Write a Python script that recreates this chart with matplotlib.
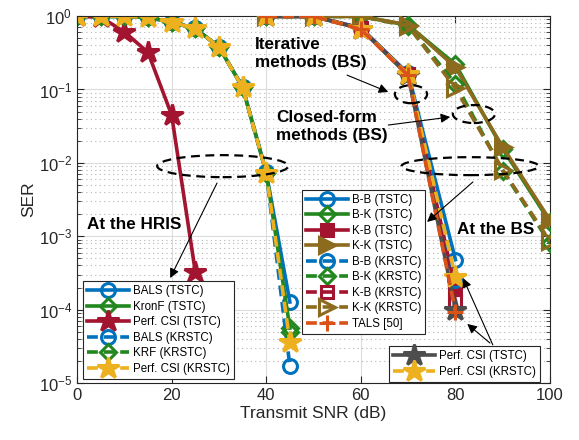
import matplotlib
matplotlib.use("Agg")
import matplotlib.pyplot as plt
from matplotlib.patches import Ellipse
from matplotlib.ticker import LogLocator, NullFormatter

plt.rcParams['font.family'] = ['Liberation Sans', 'DejaVu Sans']
plt.rcParams['mathtext.fontset'] = 'custom'
plt.rcParams['mathtext.rm'] = 'Liberation Sans'

# SER at the HRIS
snr_hris = [0, 5, 10, 15, 20, 25, 30, 35, 40, 45]
bals_tstc = [0.99, 0.99, 0.99, 0.96, 0.82, 0.68, 0.38, 0.108, 0.0074, 1.27e-4]
kronf_tstc = [0.99, 0.99, 0.99, 0.96, 0.82, 0.68, 0.38, 0.107, 0.0073, 5.6e-5]
bals_krstc = [0.99, 0.99, 0.99, 0.96, 0.82, 0.68, 0.38, 0.108, 0.0074, 1.7e-5]
krf_krstc = [0.99, 0.99, 0.99, 0.96, 0.82, 0.68, 0.38, 0.107, 0.0073, 5.0e-5]
perf_krstc_hris = [0.99, 0.99, 0.99, 0.96, 0.82, 0.68, 0.38, 0.107, 0.0073, 3.6e-5]
snr_perf_tstc_hris = [0, 5, 10, 15, 20, 25]
perf_tstc_hris = [0.99, 0.97, 0.61, 0.32, 0.045, 3.3e-4]

# SER at the BS
snr_bs = [40, 50, 60, 70, 80]
snr_bs_full = [40, 50, 60, 70, 80, 90, 100]
bb_tstc = [0.99, 0.99, 0.69, 0.165, 4.8e-4]
bk_tstc = [0.99, 0.99, 0.99, 0.75, 0.22, 0.0155, 1.55e-3]
kb_tstc = [0.99, 0.99, 0.68, 0.16, 1.9e-4]
kk_tstc = [0.99, 0.99, 0.99, 0.76, 0.20, 0.0164, 1.65e-3]
bb_krstc = [0.99, 0.99, 0.68, 0.16, 2.5e-4]
bk_krstc = [0.99, 0.99, 0.99, 0.73, 0.12, 0.0078, 8.0e-4]
kb_krstc = [0.99, 0.99, 0.68, 0.16, 1.3e-4]
kk_krstc = [0.99, 0.99, 0.99, 0.74, 0.104, 0.0080, 8.5e-4]
tals = [0.99, 0.99, 0.66, 0.155, 9.4e-5]
perf_tstc_bs = [0.99, 0.99, 0.67, 0.155, 1.0e-4]
perf_krstc_bs = [0.99, 0.99, 0.67, 0.16, 2.8e-4]

blue = '#0072BD'
green = '#23871F'
red = '#A2142F'
brown = '#8C6A1E'
orange = '#D95319'
yellow = '#EDB120'
gray = '#4D4D4D'

LW = 2.6
MEW = 2.2

fig = plt.figure(figsize=(5.79, 4.40), dpi=100)
ax = fig.add_axes([0.133, 0.1295, 0.817, 0.834])


def curve(x, y, color, marker, ls='-', ms=9, fill='none', z=2, label=None):
    return ax.plot(x, y, ls=ls, color=color, lw=LW, marker=marker, ms=ms,
                   mew=MEW, mfc=fill, mec=color, zorder=z, label=label,
                   dashes=(3, 1.6) if ls == '--' else (None, None))[0]


# HRIS curves
h1 = curve(snr_hris, bals_tstc, blue, 'o', ms=10, z=2, label='BALS (TSTC)')
h2 = curve(snr_hris, kronf_tstc, green, 'D', ms=8, z=2.1, label='KronF (TSTC)')
h3 = curve(snr_perf_tstc_hris, perf_tstc_hris, red, '*', ms=16, fill=red, z=2.2,
           label='Perf. CSI (TSTC)')
h4 = curve(snr_hris, bals_krstc, blue, 'o', ls='--', ms=10, z=2.3, label='BALS (KRSTC)')
h5 = curve(snr_hris, krf_krstc, green, 'D', ls='--', ms=8, z=2.4, label='KRF (KRSTC)')
h6 = curve(snr_hris, perf_krstc_hris, yellow, '*', ls='--', ms=16, fill=yellow, z=2.5,
           label='Perf. CSI (KRSTC)')

# BS curves
b1 = curve(snr_bs, bb_tstc, blue, 'o', ms=10, z=3, label='B-B (TSTC)')
b2 = curve(snr_bs_full, bk_tstc, green, 'D', ms=8, z=3.1, label='B-K (TSTC)')
b3 = curve(snr_bs, kb_tstc, red, 's', ms=8, fill=red, z=3.2, label='K-B (TSTC)')
b4 = curve(snr_bs_full, kk_tstc, brown, '>', ms=11, fill=brown, z=3.3, label='K-K (TSTC)')
b5 = curve(snr_bs, bb_krstc, blue, 'o', ls='--', ms=10, z=3.4, label='B-B (KRSTC)')
b6 = curve(snr_bs_full, bk_krstc, green, 'D', ls='--', ms=8, z=3.5, label='B-K (KRSTC)')
b7 = curve(snr_bs, kb_krstc, red, 's', ls='--', ms=8, z=3.6, label='K-B (KRSTC)')
b8 = curve(snr_bs_full, kk_krstc, brown, '>', ls='--', ms=11, z=3.7, label='K-K (KRSTC)')
p1 = curve(snr_bs, perf_tstc_bs, gray, '*', ms=16, fill=gray, z=3.8, label='Perf. CSI (TSTC)')
p2 = curve(snr_bs, perf_krstc_bs, yellow, '*', ls='--', ms=16, fill=yellow, z=3.9,
           label='Perf. CSI (KRSTC)')
b9 = curve(snr_bs, tals, orange, '+', ls='--', ms=12, z=4, label='TALS [50]')

ax.set_yscale('log')
ax.set_xlim(0, 100)
ax.set_ylim(1e-5, 1)
ax.set_xticks([0, 20, 40, 60, 80, 100])
ax.yaxis.set_major_locator(LogLocator(base=10, numticks=10))
ax.yaxis.set_minor_locator(LogLocator(base=10, subs=range(2, 10), numticks=10))
ax.yaxis.set_minor_formatter(NullFormatter())
ax.tick_params(which='both', direction='in', top=True, right=True, colors='#262626',
               labelsize=12)
ax.tick_params(which='major', length=5)
ax.tick_params(which='minor', length=3)
ax.grid(True, which='major', color='#dcdcdc', lw=0.8, zorder=0)
ax.grid(True, which='minor', axis='y', color='#b5b5b5', lw=0.8, ls=(0, (1, 3)), zorder=0)
for s in ax.spines.values():
    s.set_color('#262626')
    s.set_linewidth(0.8)
ax.set_xlabel('Transmit SNR (dB)', fontsize=12.5, color='#262626', labelpad=2)
ax.set_ylabel('SER', fontsize=12.5, color='#262626', labelpad=2)

leg_kw = dict(fontsize=8.3, handlelength=3.6, handletextpad=0.35, borderaxespad=0,
              fancybox=False, framealpha=1, edgecolor='#262626', labelspacing=0.3,
              borderpad=0.35, numpoints=1)
leg1 = ax.legend(handles=[h1, h2, h3, h4, h5, h6], loc='lower left',
                 bbox_to_anchor=(0.013, 0.012), **leg_kw)
leg2 = ax.legend(handles=[b1, b2, b3, b4, b5, b6, b7, b8, b9], loc='upper left',
                 bbox_to_anchor=(0.476, 0.526), **leg_kw)
leg3 = ax.legend(handles=[p1, p2], loc='lower left',
                 bbox_to_anchor=(0.66, 0.003), **leg_kw)
for lg in (leg1, leg2, leg3):
    lg.get_frame().set_linewidth(0.8)
    lg.set_zorder(10)
ax.add_artist(leg1)
ax.add_artist(leg2)

# dashed ellipses, arrows and notes
ell_kw = dict(transform=ax.transAxes, fill=False, ls=(0, (4, 2.5)), lw=1.6,
              ec='k', zorder=6)
for cx, cy, w, h in [(0.308, 0.591, 0.277, 0.060), (0.831, 0.591, 0.290, 0.049),
                     (0.706, 0.787, 0.068, 0.049), (0.839, 0.733, 0.089, 0.049)]:
    ax.add_patch(Ellipse((cx, cy), w, h, **ell_kw))

arrow = dict(arrowstyle='-|>', lw=0.8, color='k', mutation_scale=14, shrinkA=0, shrinkB=0)
for (x0, y0), (x1, y1) in [((0.296, 0.545), (0.197, 0.286)),
                           ((0.837, 0.548), (0.740, 0.439)),
                           ((0.571, 0.839), (0.658, 0.793)),
                           ((0.658, 0.703), (0.789, 0.725)),
                           ((0.879, 0.104), (0.816, 0.286)),
                           ((0.873, 0.109), (0.825, 0.161))]:
    ax.annotate('', xy=(x1, y1), xytext=(x0, y0), xycoords='axes fraction',
                textcoords='axes fraction', arrowprops=arrow, zorder=7)

txt_kw = dict(transform=ax.transAxes, fontsize=12.3, fontweight='bold', va='center',
              ha='left', linespacing=1.25, zorder=8)
ax.text(0.021, 0.433, 'At the HRIS', **txt_kw)
ax.text(0.803, 0.417, 'At the BS', **txt_kw)
ax.text(0.376, 0.899, 'Iterative\nmethods (BS)', **txt_kw)
ax.text(0.421, 0.700, 'Closed-form\nmethods (BS)', **txt_kw)

fig.savefig('out.png', dpi=100)
